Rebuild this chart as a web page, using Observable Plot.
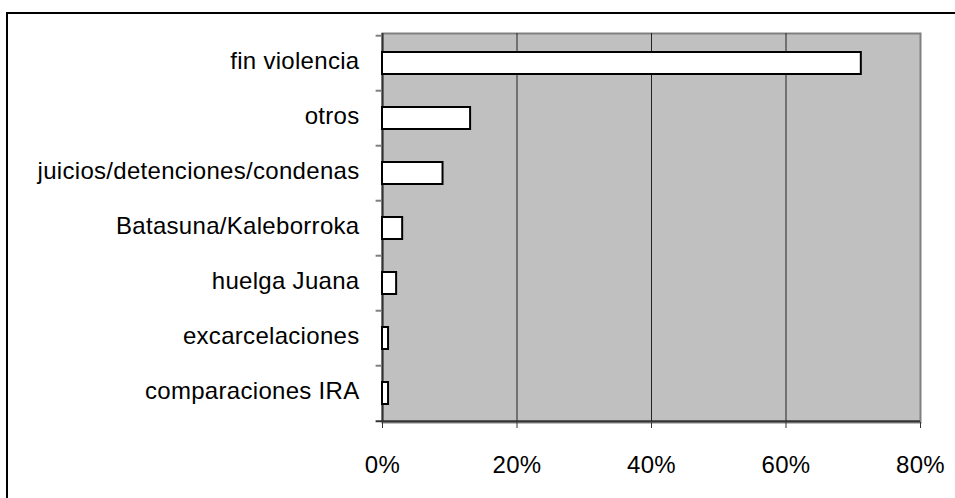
<!DOCTYPE html>
<html><head><meta charset="utf-8">
<script src="https://cdn.jsdelivr.net/npm/d3@7"></script>
<script src="https://cdn.jsdelivr.net/npm/@observablehq/plot@0.6"></script>
<style>
body{margin:0;background:#fff;overflow:hidden}
#wrap{position:relative;width:955px;height:498px;overflow:hidden}
#border{position:absolute;left:6px;top:12px;width:1000px;height:600px;border-left:2px solid #000;border-top:2px solid #000}
#chart{position:absolute;left:0;top:0}
</style></head><body><div id="wrap"><div id="border"></div><div id="chart"></div></div>
<script>
const categories = ["fin violencia", "otros", "juicios/detenciones/condenas", "Batasuna/Kaleborroka", "huelga Juana", "excarcelaciones", "comparaciones IRA"];
const values = [71.2, 13.1, 9.0, 3.0, 2.1, 0.9, 0.9];
const xTicks = [0, 20, 40, 60, 80];
const gridTicks = [20, 40, 60];

const data = categories.map((c, i) => ({cat: c, value: values[i]}));
const top_ = 33, bottom_ = 422;
const step = (bottom_ - top_) / categories.length;

const chart = Plot.plot({
  width: 955, height: 498,
  marginLeft: 382, marginRight: 35, marginTop: top_, marginBottom: 498 - bottom_,
  style: {fontFamily: "'Liberation Sans', Arial, sans-serif", fontSize: "24px", background: "transparent", color: "#000", letterSpacing: "0.3px", overflow: "visible"},
  x: {domain: [0, 80]},
  y: {domain: categories, paddingInner: 0.6, paddingOuter: 0.3},
  marks: [
    Plot.frame({fill: "#c0c0c0", stroke: "#808080", strokeWidth: 2}),
    Plot.ruleX(gridTicks, {stroke: "#222", strokeWidth: 1}),
    Plot.ruleX([0], {stroke: "#333", strokeWidth: 2}),
    Plot.ruleY(categories, {x1: -0.95, x2: 0, dy: -step / 2, stroke: "#808080", strokeWidth: 2}),
    Plot.ruleY([categories[categories.length - 1]], {x1: -0.95, x2: 80, dy: step / 2, stroke: "#333", strokeWidth: 2}),
    Plot.barX(data, {x: "value", y: "cat", fill: "white", stroke: "black", strokeWidth: 2}),
    Plot.axisX({ticks: xTicks, tickFormat: d => d + "%", tickSize: 6, tickPadding: 27, stroke: "#333", fontSize: 24, label: null}),
    Plot.axisY({tickSize: 0, tickPadding: 23, fontSize: 24, dy: -2, label: null})
  ]
});
document.getElementById("chart").appendChild(chart);
</script>
</body></html>
